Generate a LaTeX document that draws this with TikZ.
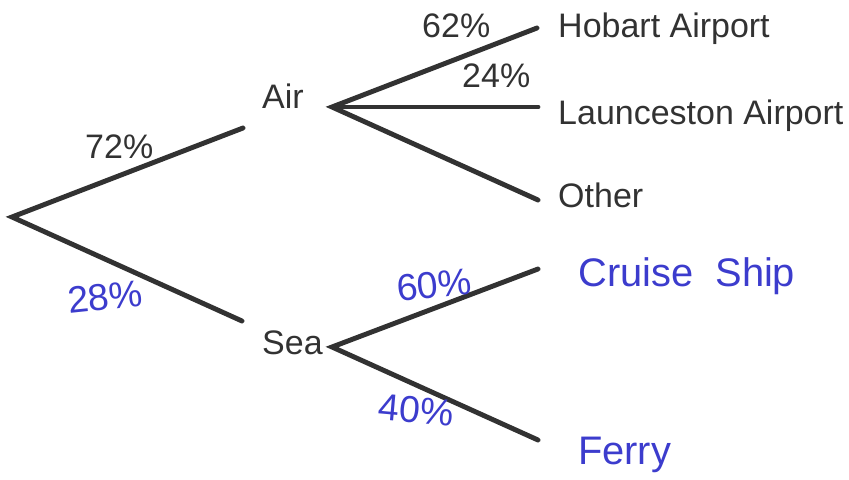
\documentclass[tikz,border=0pt]{standalone}
\usepackage{fontspec}
\setmainfont{Liberation Sans}
\definecolor{branch}{RGB}{50,50,50}
\definecolor{pen}{RGB}{60,60,205}
\tikzset{
    branch/.style={color=branch,line width=4.2pt,line cap=round},
    printed/.style={anchor=base west,inner sep=0pt,text=branch,font=\fontsize{29}{35}\selectfont},
    written/.style={inner sep=0pt,text=pen,font=\fontsize{32}{38}\selectfont},
    writtenword/.style={written,anchor=base west,font=\fontsize{34}{40}\selectfont}
}
\begin{document}
\begin{tikzpicture}[x=0.03cm,y=-0.03cm]
        \useasboundingbox (0,0) rectangle (849,479);
        % tree points
        \coordinate (root) at (12,217);
        \coordinate (toair) at (243,128);
        \coordinate (tosea) at (242,321);
        \coordinate (airfork) at (332,107);
        \coordinate (seafork) at (332,347);
        \coordinate (tohobart) at (537,28);
        \coordinate (tolaunceston) at (538,107);
        \coordinate (toother) at (538,200);
        \coordinate (tocruise) at (538,269);
        \coordinate (toferry) at (538,440);
        \draw[branch] (toair) -- (root) -- (tosea);
        \draw[branch] (tohobart) -- (airfork) -- (toother);
        \draw[branch] (airfork) -- (tolaunceston);
        \draw[branch] (tocruise) -- (seafork) -- (toferry);
        % outcomes
        \node[printed] (air) at (262,108) {Air};
        \node[printed] (sea) at (262,354) {Sea};
        \node[printed] (hobart) at (558,38) {Hobart Airport};
        \node[printed] (launceston) at (558,124) {Launceston Airport};
        \node[printed] (other) at (558,207) {Other};
        \node[writtenword] (cruise) at (578,286) {Cruise\ \ Ship};
        \node[writtenword] (ferry) at (578,464) {Ferry};
        % probabilities
        \node[written,rotate=6] (psea) at (105,297) {28\%};
        \node[printed] (pair) at (85,158) {72\%};
        \node[printed] (phobart) at (422,38) {62\%};
        \node[printed] (plaunceston) at (462,88) {24\%};
        \node[written,rotate=6] (pcruise) at (434,285) {60\%};
        \node[written,rotate=-5] (pferry) at (416,410) {40\%};
    \end{tikzpicture}
\end{document}
